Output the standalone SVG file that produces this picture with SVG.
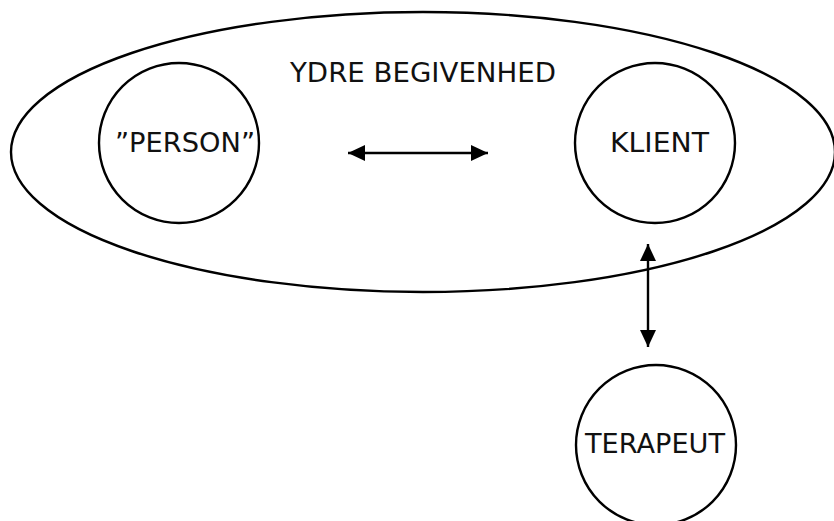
<svg xmlns="http://www.w3.org/2000/svg" width="834" height="521" viewBox="0 0 834 521">
<defs>
<style>
.shape{fill:none;stroke:#000;stroke-width:2.4}
.lbl{font-family:"DejaVu Sans","Liberation Sans",sans-serif;font-size:26px;fill:#111}
.conn{stroke:#000;stroke-width:2.4;fill:none}
</style>
<marker id="ah" viewBox="0 0 17 16" refX="17" refY="8" markerWidth="17" markerHeight="16" markerUnits="userSpaceOnUse" orient="auto-start-reverse">
<path d="M0,0 L17,8 L0,16 Z" fill="#000"/>
</marker>
</defs>
<rect width="834" height="521" fill="#fff"/>
<g id="ydre-begivenhed">
<ellipse class="shape" cx="423" cy="152" rx="412" ry="140"/>
<text class="lbl" x="290" y="82" textLength="266" lengthAdjust="spacingAndGlyphs" style="font-size:27px">YDRE BEGIVENHED</text>
</g>
<g id="person">
<circle class="shape" cx="179" cy="143" r="80"/>
<text class="lbl" x="115" y="152" textLength="140" lengthAdjust="spacingAndGlyphs">”PERSON”</text>
</g>
<g id="klient">
<circle class="shape" cx="655" cy="143" r="80"/>
<text class="lbl" x="610" y="152" textLength="99" lengthAdjust="spacingAndGlyphs">KLIENT</text>
</g>
<g id="terapeut">
<circle class="shape" cx="656" cy="445" r="80"/>
<text class="lbl" x="585" y="453" textLength="140" lengthAdjust="spacingAndGlyphs">TERAPEUT</text>
</g>
<g id="connectors">
<line class="conn" x1="348" y1="153" x2="488" y2="153" marker-start="url(#ah)" marker-end="url(#ah)"/>
<line class="conn" x1="648" y1="244" x2="648" y2="347" marker-start="url(#ah)" marker-end="url(#ah)"/>
</g>
</svg>
